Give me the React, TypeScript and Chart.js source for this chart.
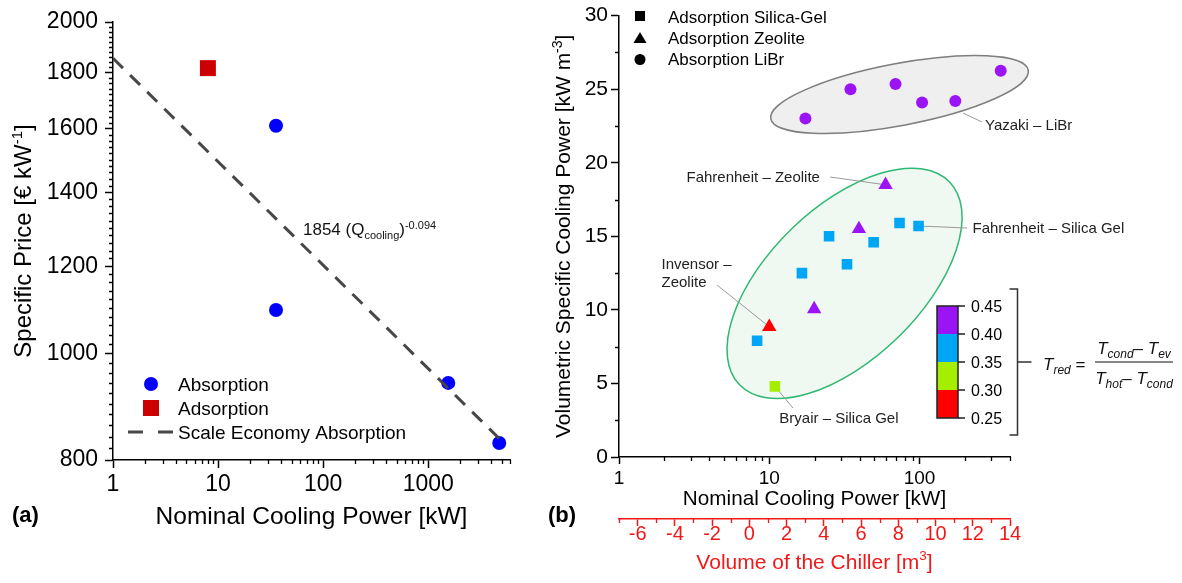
import { useEffect, useRef } from 'react';
import { Chart, registerables } from 'chart.js';

Chart.register(...registerables);

const FONT_FAMILY = '"Liberation Sans", Arial, Helvetica, sans-serif';

// ---------- Panel (a): specific price of sorption chillers ----------
const absorptionPowerKW = [35.6, 35.6, 1550, 4740];
const absorptionPrice = [1610, 1095, 940, 829];
const adsorptionPowerKW = [8.0];
const adsorptionPrice = [1816];
// scale-economy fit for absorption chillers: price = 1854 * Q^-0.094
const fitCoefficient = 1854;
const fitExponent = -0.094;
const fitPowerRangeKW = [1, 5000];
const priceTickValues = [800, 1000, 1200, 1400, 1600, 1800, 2000];
const powerTickValuesA = [1, 10, 100, 1000];

// ---------- Panel (b): volumetric specific cooling power ----------
const librPowerKW = [17.4, 34.7, 69.2, 104, 173, 347];
const librVSCP = [23.0, 25.0, 25.35, 24.1, 24.2, 26.25];
const librTred = [0.42, 0.42, 0.42, 0.42, 0.42, 0.42];

const zeolitePowerKW = [59.4, 39.5, 19.9, 10.0];
const zeoliteVSCP = [18.5, 15.5, 10.05, 8.85];
const zeoliteTred = [0.42, 0.42, 0.42, 0.27];

const silicaPowerKW = [8.3, 10.9, 16.5, 25, 32.9, 49.5, 73.6, 98.5];
const silicaVSCP = [7.9, 4.8, 12.5, 15.0, 13.1, 14.6, 15.9, 15.7];
const silicaTred = [0.37, 0.32, 0.37, 0.37, 0.37, 0.37, 0.37, 0.37];

const powerTickValuesB = [1, 10, 100];
const vscpTickValues = [0, 5, 10, 15, 20, 25, 30];
const volumeTickValues = [-6, -4, -2, 0, 2, 4, 6, 8, 10, 12, 14];
const tredTickValues = [0.25, 0.3, 0.35, 0.4, 0.45];
const tredBandColors = ['#FF0000', '#A6EE00', '#00A6F6', '#9A14F6'];

const RED_AXIS = '#F01818';

// ---------- helpers ----------
function tredColor(t: number): string {
  for (let i = 0; i < tredBandColors.length; i++) {
    if (t >= tredTickValues[i] && t < tredTickValues[i + 1]) return tredBandColors[i];
  }
  return tredBandColors[tredBandColors.length - 1];
}

function logMinorTicks(min: number, max: number): number[] {
  const out: number[] = [];
  for (let d = 1; d <= max; d *= 10) {
    for (let k = 2; k <= 9; k++) {
      const v = k * d;
      if (v >= min && v <= max) out.push(v);
    }
  }
  return out;
}

function stepMinorTicks(min: number, max: number, step: number, majorStep: number): number[] {
  const out: number[] = [];
  const n = Math.round((max - min) / step);
  for (let i = 0; i <= n; i++) {
    const v = min + i * step;
    const r = v / majorStep;
    if (Math.abs(r - Math.round(r)) > 1e-6) out.push(v);
  }
  return out;
}

type Seg = { text: string; size: number; dy?: number; italic?: boolean; bold?: boolean };

const segFont = (s: Seg) =>
  `${s.italic ? 'italic ' : ''}${s.bold ? 'bold ' : ''}${s.size}px ${FONT_FAMILY}`;

function richWidth(ctx: CanvasRenderingContext2D, segs: Seg[]): number {
  let w = 0;
  for (const s of segs) {
    ctx.font = segFont(s);
    w += ctx.measureText(s.text).width;
  }
  return w;
}

function drawRich(
  ctx: CanvasRenderingContext2D,
  segs: Seg[],
  x: number,
  baseline: number,
  align: 'left' | 'center' | 'right',
  color: string
) {
  const w = richWidth(ctx, segs);
  let cx = align === 'left' ? x : align === 'center' ? x - w / 2 : x - w;
  ctx.fillStyle = color;
  ctx.textAlign = 'left';
  ctx.textBaseline = 'alphabetic';
  for (const s of segs) {
    ctx.font = segFont(s);
    ctx.fillText(s.text, cx, baseline + (s.dy ?? 0));
    cx += ctx.measureText(s.text).width;
  }
}

function drawVerticalRich(
  ctx: CanvasRenderingContext2D,
  segs: Seg[],
  baselineX: number,
  centerY: number,
  color: string
) {
  ctx.save();
  ctx.translate(baselineX, centerY);
  ctx.rotate(-Math.PI / 2);
  drawRich(ctx, segs, 0, 0, 'center', color);
  ctx.restore();
}

type MinorSpec = { id: string; values: number[]; length: number; color: string };

function minorTicksPlugin(specs: MinorSpec[]) {
  return {
    id: 'minorTicks',
    afterDraw(chart: any) {
      const ctx: CanvasRenderingContext2D = chart.ctx;
      for (const spec of specs) {
        const scale = chart.scales[spec.id];
        ctx.save();
        ctx.strokeStyle = spec.color;
        ctx.lineWidth = 1.3;
        ctx.beginPath();
        for (const v of spec.values) {
          const p = Math.round(scale.getPixelForValue(v)) + 0.5;
          if (scale.isHorizontal()) {
            ctx.moveTo(p, scale.top);
            ctx.lineTo(p, scale.top + spec.length);
          } else {
            ctx.moveTo(scale.right, p);
            ctx.lineTo(scale.right - spec.length, p);
          }
        }
        ctx.stroke();
        ctx.restore();
      }
    },
  };
}

function axisStyle(size: number, tickLength: number, padding: number, color = '#000', lineHeight = 1.2) {
  return {
    ticks: {
      font: { family: FONT_FAMILY, size, lineHeight },
      color,
      padding,
      maxRotation: 0,
      autoSkip: false,
      callback: (v: number) => String(v),
    },
    grid: { drawOnChartArea: false, color, tickLength, tickWidth: 1.5 },
    border: { color, width: 1.5 },
    title: { display: false },
  };
}

// ---------- panel (a) ----------
function buildPanelA(): any {
  const fitLine = fitPowerRangeKW.map((q) => ({ x: q, y: fitCoefficient * Math.pow(q, fitExponent) }));

  const decor = {
    id: 'panelADecor',
    afterDraw(chart: any) {
      const ctx: CanvasRenderingContext2D = chart.ctx;
      const { left, right, top, bottom } = chart.chartArea;

      // fit equation label
      drawRich(
        ctx,
        [
          { text: '1854 (Q', size: 17 },
          { text: 'cooling', size: 11, dy: 4 },
          { text: ')', size: 17 },
          { text: '-0.094', size: 11, dy: -6 },
        ],
        303,
        235,
        'left',
        '#111'
      );

      // legend
      ctx.save();
      ctx.fillStyle = '#0000FF';
      ctx.beginPath();
      ctx.arc(151, 384, 7, 0, Math.PI * 2);
      ctx.fill();
      ctx.fillStyle = '#CC0000';
      ctx.fillRect(143, 400, 16, 16);
      ctx.strokeStyle = '#474747';
      ctx.lineWidth = 3;
      ctx.beginPath();
      ctx.moveTo(128, 432);
      ctx.lineTo(143, 432);
      ctx.moveTo(158, 432);
      ctx.lineTo(173, 432);
      ctx.stroke();
      ctx.restore();
      drawRich(ctx, [{ text: 'Absorption', size: 19 }], 178, 391, 'left', '#000');
      drawRich(ctx, [{ text: 'Adsorption', size: 19 }], 178, 415, 'left', '#000');
      drawRich(ctx, [{ text: 'Scale Economy Absorption', size: 19 }], 178, 438.5, 'left', '#000');

      // axis titles
      drawVerticalRich(
        ctx,
        [
          { text: 'Specific Price [€ kW', size: 24 },
          { text: '-1', size: 15, dy: -9 },
          { text: ']', size: 24 },
        ],
        31,
        (top + bottom) / 2,
        '#000'
      );
      drawRich(ctx, [{ text: 'Nominal Cooling Power [kW]', size: 24.5 }], (left + right) / 2, 524, 'center', '#000');

      // panel tag
      drawRich(ctx, [{ text: '(a)', size: 22, bold: true }], 12, 522, 'left', '#000');
    },
  };

  return {
    type: 'scatter',
    data: {
      datasets: [
        {
          label: 'Scale Economy Absorption',
          data: fitLine,
          showLine: true,
          borderColor: '#474747',
          borderWidth: 3,
          borderDash: [14, 10],
          pointRadius: 0,
          fill: false,
        },
        {
          label: 'Absorption',
          data: absorptionPowerKW.map((x, i) => ({ x, y: absorptionPrice[i] })),
          pointStyle: 'circle',
          pointRadius: 7,
          pointBackgroundColor: '#0000FF',
          pointBorderWidth: 0,
        },
        {
          label: 'Adsorption',
          data: adsorptionPowerKW.map((x, i) => ({ x, y: adsorptionPrice[i] })),
          pointStyle: 'rect',
          pointRadius: 11.3,
          pointBackgroundColor: '#CC0000',
          pointBorderWidth: 0,
        },
      ],
    },
    options: {
      animation: false,
      responsive: false,
      events: [],
      layout: { padding: { top: 22, right: 30, bottom: 0, left: 0 } },
      plugins: { legend: { display: false }, tooltip: { enabled: false } },
      scales: {
        x: {
          type: 'logarithmic',
          min: 1,
          max: 6000,
          afterBuildTicks: (s: any) => {
            s.ticks = powerTickValuesA.map((value) => ({ value }));
          },
          afterFit: (s: any) => {
            s.height = 123;
          },
          ...axisStyle(23, 8, 3),
        },
        y: {
          type: 'logarithmic',
          min: 800,
          max: 2000,
          afterBuildTicks: (s: any) => {
            s.ticks = priceTickValues.map((value) => ({ value }));
          },
          afterFit: (s: any) => {
            s.width = 113;
          },
          ...axisStyle(23, 8, 7),
        },
      },
    },
    plugins: [
      decor,
      minorTicksPlugin([
        { id: 'x', values: logMinorTicks(1, 6000), length: 4, color: '#000' },
        { id: 'y', values: stepMinorTicks(800, 2000, 20, 200), length: 4, color: '#000' },
      ]),
    ],
  };
}

// ---------- panel (b) ----------
function buildPanelB(): any {
  // chiller groups, outlined around their points
  const groups = [
    { center: [73.6, 24.64], rx: 131, ry: 31, angleDeg: -10.7, fill: '#EFEFEF', stroke: '#7E7E7E' },
    { center: [31.7, 11.8], rx: 146, ry: 76, angleDeg: -44, fill: '#F0F8F2', stroke: '#2EB872' },
  ];

  const backdrop = {
    id: 'panelBBackdrop',
    beforeDatasetsDraw(chart: any) {
      const ctx: CanvasRenderingContext2D = chart.ctx;
      const xs = chart.scales.x;
      const ys = chart.scales.y;
      ctx.save();
      for (const g of groups) {
        const cx = xs.getPixelForValue(g.center[0]);
        const cy = ys.getPixelForValue(g.center[1]);
        ctx.beginPath();
        ctx.ellipse(cx, cy, g.rx, g.ry, (g.angleDeg * Math.PI) / 180, 0, Math.PI * 2);
        ctx.fillStyle = g.fill;
        ctx.fill();
        ctx.lineWidth = 1.5;
        ctx.strokeStyle = g.stroke;
        ctx.stroke();
      }

      // leader lines from labels to their chillers
      const px = (x: number, y: number) => [xs.getPixelForValue(x), ys.getPixelForValue(y)];
      const leaders: number[][][] = [
        [[423, 113], [442, 122]],
        [[290, 177], px(zeolitePowerKW[0], zeoliteVSCP[0])],
        [px(silicaPowerKW[7], silicaVSCP[7]), [427, 228]],
        [[177, 285], px(zeolitePowerKW[3], zeoliteVSCP[3])],
        [px(silicaPowerKW[1], silicaVSCP[1]), [253, 408]],
      ];
      ctx.strokeStyle = '#9A9A9A';
      ctx.lineWidth = 1;
      ctx.beginPath();
      for (const [a, b] of leaders) {
        ctx.moveTo(a[0], a[1]);
        ctx.lineTo(b[0], b[1]);
      }
      ctx.stroke();
      ctx.restore();
    },
  };

  const decor = {
    id: 'panelBDecor',
    afterDraw(chart: any) {
      const ctx: CanvasRenderingContext2D = chart.ctx;
      const { left, right, top, bottom } = chart.chartArea;
      const midX = (left + right) / 2;

      // marker legend
      ctx.save();
      ctx.fillStyle = '#000';
      ctx.fillRect(95, 11, 10, 10);
      ctx.beginPath();
      ctx.moveTo(100, 32);
      ctx.lineTo(106.5, 43);
      ctx.lineTo(93.5, 43);
      ctx.closePath();
      ctx.fill();
      ctx.beginPath();
      ctx.arc(100, 59.5, 5.5, 0, Math.PI * 2);
      ctx.fill();
      ctx.restore();
      drawRich(ctx, [{ text: 'Adsorption Silica-Gel', size: 17 }], 128, 22.7, 'left', '#000');
      drawRich(ctx, [{ text: 'Adsorption Zeolite', size: 17 }], 128, 43.5, 'left', '#000');
      drawRich(ctx, [{ text: 'Absorption LiBr', size: 17 }], 128, 65, 'left', '#000');

      // chiller labels
      const lab = (t: string, x: number, y: number) => drawRich(ctx, [{ text: t, size: 15 }], x, y, 'left', '#222');
      lab('Yazaki – LiBr', 445, 130);
      lab('Fahrenheit – Zeolite', 146.5, 182);
      lab('Fahrenheit – Silica Gel', 432.5, 233.3);
      lab('Invensor –', 121.5, 269.3);
      lab('Zeolite', 121.5, 286.7);
      lab('Bryair – Silica Gel', 239.3, 422.7);

      // reduced-temperature colour bar
      const barL = 397;
      const barR = 418;
      const barTop = 306;
      const barBottom = 418;
      const tMin = tredTickValues[0];
      const tMax = tredTickValues[tredTickValues.length - 1];
      const ty = (t: number) => barBottom - ((t - tMin) / (tMax - tMin)) * (barBottom - barTop);
      ctx.save();
      for (let i = 0; i < tredBandColors.length; i++) {
        const y0 = ty(tredTickValues[i + 1]);
        const y1 = ty(tredTickValues[i]);
        ctx.fillStyle = tredBandColors[i];
        ctx.fillRect(barL, y0, barR - barL, y1 - y0);
      }
      ctx.strokeStyle = '#222';
      ctx.lineWidth = 1.5;
      ctx.strokeRect(barL, barTop, barR - barL, barBottom - barTop);
      ctx.beginPath();
      for (const t of tredTickValues) {
        const y = ty(t);
        ctx.moveTo(barR, y);
        ctx.lineTo(barR + 7, y);
      }
      ctx.stroke();

      // bracket joining the colour bar to its definition
      ctx.strokeStyle = '#333';
      ctx.lineWidth = 1.5;
      ctx.beginPath();
      ctx.moveTo(469.5, 289);
      ctx.lineTo(477.5, 289);
      ctx.lineTo(477.5, 435);
      ctx.lineTo(469.5, 435);
      ctx.moveTo(477.5, 362);
      ctx.lineTo(491.5, 362);
      ctx.stroke();

      // fraction bar
      ctx.strokeStyle = '#111';
      ctx.lineWidth = 1.2;
      ctx.beginPath();
      ctx.moveTo(555, 362);
      ctx.lineTo(633, 362);
      ctx.stroke();
      ctx.restore();

      for (const t of tredTickValues) {
        drawRich(ctx, [{ text: t.toFixed(2), size: 16 }], 431, ty(t) + 5.5, 'left', '#000');
      }

      drawRich(
        ctx,
        [
          { text: 'T', size: 17, italic: true },
          { text: 'red', size: 12, italic: true, dy: 4 },
          { text: ' =', size: 17 },
        ],
        503,
        370,
        'left',
        '#111'
      );
      drawRich(
        ctx,
        [
          { text: 'T', size: 17, italic: true },
          { text: 'cond', size: 12, italic: true, dy: 4 },
          { text: '– ', size: 17 },
          { text: 'T', size: 17, italic: true },
          { text: 'ev', size: 12, italic: true, dy: 4 },
        ],
        594,
        354,
        'center',
        '#111'
      );
      drawRich(
        ctx,
        [
          { text: 'T', size: 17, italic: true },
          { text: 'hot', size: 12, italic: true, dy: 4 },
          { text: '– ', size: 17 },
          { text: 'T', size: 17, italic: true },
          { text: 'cond', size: 12, italic: true, dy: 4 },
        ],
        594,
        384,
        'center',
        '#111'
      );

      // axis titles
      drawVerticalRich(
        ctx,
        [
          { text: 'Volumetric Specific Cooling Power [kW m', size: 21 },
          { text: '-3', size: 14, dy: -8 },
          { text: ']', size: 21 },
        ],
        29.5,
        (top + bottom) / 2,
        '#000'
      );
      drawRich(ctx, [{ text: 'Nominal Cooling Power [kW]', size: 20.7 }], midX, 505, 'center', '#000');
      drawRich(
        ctx,
        [
          { text: 'Volume of the Chiller [m', size: 21 },
          { text: '3', size: 13.5, dy: -8.5 },
          { text: ']', size: 21 },
        ],
        midX,
        568.5,
        'center',
        RED_AXIS
      );

      // panel tag
      drawRich(ctx, [{ text: '(b)', size: 22, bold: true }], 8, 522, 'left', '#000');
    },
  };

  const points = (xs: number[], ys: number[]) => xs.map((x, i) => ({ x, y: ys[i] }));

  return {
    type: 'scatter',
    data: {
      datasets: [
        {
          label: 'Absorption LiBr',
          data: points(librPowerKW, librVSCP),
          pointStyle: 'circle',
          pointRadius: 6,
          pointBackgroundColor: librTred.map(tredColor),
          pointBorderWidth: 0,
        },
        {
          label: 'Adsorption Silica-Gel',
          data: points(silicaPowerKW, silicaVSCP),
          pointStyle: 'rect',
          pointRadius: 7.5,
          pointBackgroundColor: silicaTred.map(tredColor),
          pointBorderWidth: 0,
        },
        {
          label: 'Adsorption Zeolite',
          data: points(zeolitePowerKW, zeoliteVSCP),
          pointStyle: 'triangle',
          pointRadius: 8.3,
          pointBackgroundColor: zeoliteTred.map(tredColor),
          pointBorderWidth: 0,
        },
      ],
    },
    options: {
      animation: false,
      responsive: false,
      events: [],
      layout: { padding: { top: 15, right: 172, bottom: 0, left: 0 } },
      plugins: { legend: { display: false }, tooltip: { enabled: false } },
      scales: {
        x: {
          type: 'logarithmic',
          position: 'bottom',
          weight: 0,
          min: 1,
          max: 400,
          afterBuildTicks: (s: any) => {
            s.ticks = powerTickValuesB.map((value) => ({ value }));
          },
          afterFit: (s: any) => {
            s.height = 62;
          },
          ...axisStyle(19, 7, 3),
        },
        x2: {
          type: 'linear',
          position: 'bottom',
          weight: 1,
          min: -7,
          max: 14,
          afterBuildTicks: (s: any) => {
            s.ticks = volumeTickValues.map((value) => ({ value }));
          },
          afterFit: (s: any) => {
            s.height = 64;
          },
          ...axisStyle(20, 7, -1.5, RED_AXIS, 1),
        },
        y: {
          type: 'linear',
          min: 0,
          max: 30,
          afterBuildTicks: (s: any) => {
            s.ticks = vscpTickValues.map((value) => ({ value }));
          },
          afterFit: (s: any) => {
            s.width = 79;
          },
          ...axisStyle(21, 8, 3),
        },
      },
    },
    plugins: [
      backdrop,
      decor,
      minorTicksPlugin([
        { id: 'x', values: logMinorTicks(1, 400), length: 4, color: '#000' },
        { id: 'y', values: stepMinorTicks(0, 30, 2.5, 5), length: 4, color: '#000' },
        { id: 'x2', values: stepMinorTicks(-7, 14, 1, 2), length: 4, color: RED_AXIS },
      ]),
    ],
  };
}

export default function App() {
  const leftRef = useRef<HTMLCanvasElement>(null);
  const rightRef = useRef<HTMLCanvasElement>(null);

  useEffect(() => {
    const a = new Chart(leftRef.current as HTMLCanvasElement, buildPanelA());
    const b = new Chart(rightRef.current as HTMLCanvasElement, buildPanelB());
    return () => {
      a.destroy();
      b.destroy();
    };
  }, []);

  return (
    <div style={{ position: 'absolute', left: 0, top: 0, width: 1182, height: 583, background: '#fff' }}>
      <canvas
        ref={leftRef}
        width={540}
        height={583}
        style={{ position: 'absolute', left: 0, top: 0, width: 540, height: 583 }}
      />
      <canvas
        ref={rightRef}
        width={642}
        height={583}
        style={{ position: 'absolute', left: 540, top: 0, width: 642, height: 583 }}
      />
    </div>
  );
}
